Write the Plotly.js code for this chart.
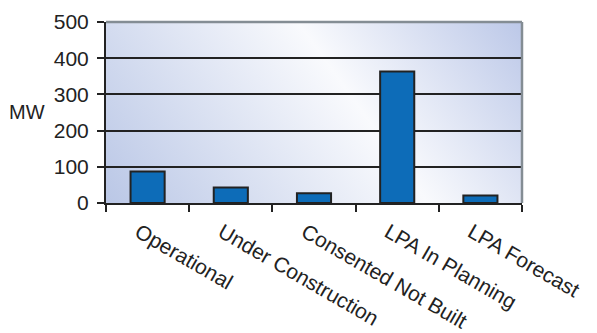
<!DOCTYPE html>
<html>
<head>
<meta charset="utf-8">
<script src="https://cdn.plot.ly/plotly-3.0.1.min.js"></script>
<style>html,body{margin:0;padding:0;background:#fff;}#chart{width:597px;height:333px;}</style>
</head>
<body>
<div id="chart"></div>
<script>
const categories = ["Operational", "Under Construction", "Consented Not Built", "LPA In Planning", "LPA Forecast"];
const mwValues = [87, 43, 27, 363, 21];
const yTicks = [0, 100, 200, 300, 400, 500];

const svg = '<svg xmlns="http://www.w3.org/2000/svg" width="416" height="181" viewBox="0 0 416 181" preserveAspectRatio="none">' +
  '<defs><linearGradient id="g" gradientUnits="userSpaceOnUse" x1="45" y1="244" x2="405" y2="-15">' +
  '<stop offset="0" stop-color="#bac7e6"/><stop offset="0.59" stop-color="#f9fafd"/><stop offset="1" stop-color="#bcc8e8"/>' +
  '</linearGradient></defs><rect x="0" y="0" width="416" height="181" fill="url(#g)"/></svg>';
const bgSrc = 'data:image/svg+xml;charset=utf-8,' + encodeURIComponent(svg);

const font = {family: "Liberation Sans, Arial, sans-serif", size: 21, color: "#222"};

Plotly.newPlot("chart", [{
  type: "bar",
  x: categories,
  y: mwValues,
  marker: {color: "#0d6cb8", line: {color: "#222", width: 2}},
  hoverinfo: "none"
}], {
  width: 597, height: 333,
  margin: {l: 106, r: 75, t: 22, b: 130},
  paper_bgcolor: "#fff",
  plot_bgcolor: "rgba(0,0,0,0)",
  bargap: 0.59,
  showlegend: false,
  font: font,
  xaxis: {
    type: "category",
    tickangle: 30,
    tickson: "boundaries",
    ticks: "outside", ticklen: 7, tickwidth: 2, tickcolor: "#222",
    showline: true, linecolor: "#222", linewidth: 2,
    showgrid: false,
    ticklabelstandoff: 7,
    ticklabelshift: -9,
    tickfont: font
  },
  yaxis: {
    range: [0, 500],
    tickvals: yTicks,
    ticks: "outside", ticklen: 7, tickwidth: 2, tickcolor: "#222",
    showline: true, linecolor: "#222", linewidth: 2,
    showgrid: true, gridcolor: "#222", gridwidth: 2,
    zeroline: false,
    ticklabelstandoff: 4,
    tickfont: font
  },
  images: [{
    source: bgSrc, xref: "paper", yref: "paper", x: 0, y: 1, sizex: 1, sizey: 1,
    xanchor: "left", yanchor: "top", sizing: "stretch", layer: "below"
  }],
  shapes: [
    {type: "line", xref: "paper", yref: "paper", x0: 0, x1: 1, y0: 1, y1: 1, line: {color: "#848d94", width: 2.5}, layer: "above"},
    {type: "line", xref: "paper", yref: "paper", x0: 1, x1: 1, y0: 0, y1: 1, line: {color: "#848d94", width: 2.5}, layer: "above"}
  ],
  annotations: [{
    text: "MW", xref: "paper", yref: "paper", x: -0.19, y: 0.505, xanchor: "center", yanchor: "middle",
    showarrow: false, font: {family: font.family, size: 20, color: "#222"}
  }]
}, {displayModeBar: false, staticPlot: true});
</script>
</body>
</html>
